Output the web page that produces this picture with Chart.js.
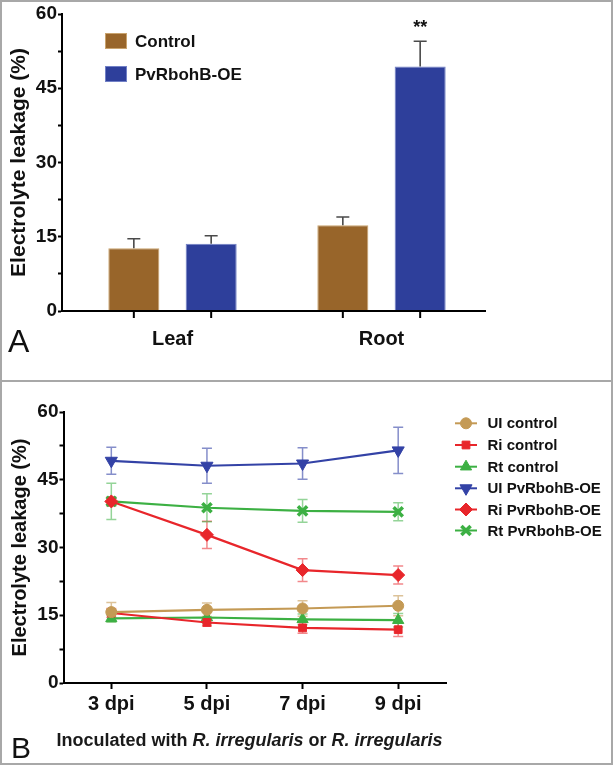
<!DOCTYPE html>
<html><head><meta charset="utf-8">
<script src="https://cdn.jsdelivr.net/npm/chart.js@4.4.1/dist/chart.umd.min.js"></script>
<style>
html,body{margin:0;padding:0;background:#fff;}
#wrap{position:relative;width:613px;height:765px;overflow:hidden;font-family:"Liberation Sans",Arial,sans-serif;color:#111;}
canvas{position:absolute;left:0;}
#cA{top:0;} #cB{top:382px;}
.frame{position:absolute;left:0;top:0;width:613px;height:765px;box-sizing:border-box;border:2px solid #a8a8a8;pointer-events:none;}
.sep{position:absolute;left:0;top:380px;width:613px;height:2px;background:#a8a8a8;}
.lbl{position:absolute;line-height:1;font-weight:normal;color:#111;}
#caption{position:absolute;top:730.5px;left:0;width:499px;text-align:center;font-weight:bold;font-size:18px;line-height:1;white-space:nowrap;color:#1a1a1a;}
</style></head>
<body>
<div id="wrap">
<canvas id="cA" width="613" height="380"></canvas>
<canvas id="cB" width="613" height="381"></canvas>
<div class="lbl" style="left:8px;top:324.5px;font-size:32px;">A</div>
<div class="lbl" style="left:11px;top:733px;font-size:30px;">B</div>
<div id="caption">Inoculated with <i>R. irregularis</i> or <i>R. irregularis</i></div>
<div class="sep"></div>
<div class="frame"></div>
</div>
<script>
// ---------- Panel A data ----------
const groupsA = ['Leaf', 'Root'];
const seriesA = ['Control', 'PvRbohB-OE'];
const controlA = [12.7, 17.3];
const controlErrA = [1.9, 1.7];
const oeA = [13.6, 49.4];
const oeErrA = [1.6, 5.1];
const sigA = ['', '**'];
const yTicksA = [0, 15, 30, 45, 60];

// ---------- Panel B data ----------
const daysB = ['3 dpi', '5 dpi', '7 dpi', '9 dpi'];
const seriesB = ['UI control', 'Ri control', 'Rt control', 'UI PvRbohB-OE', 'Ri PvRbohB-OE', 'Rt PvRbohB-OE'];
const uiControl = [15.7, 16.2, 16.5, 17.1];
const uiControlErr = [2.1, 1.5, 1.7, 2.2];
const riControl = [15.5, 13.4, 12.2, 11.8];
const riControlErr = [1.0, 0.8, 1.2, 1.5];
const rtControl = [14.3, 14.5, 14.1, 13.9];
const rtControlErr = [0.8, 1.3, 1.2, 1.5];
const uiOE = [49.2, 48.1, 48.6, 51.5];
const uiOEErr = [3.0, 3.9, 3.5, 5.1];
const riOE = [40.2, 32.8, 25.0, 23.9];
const riOEErr = [1.0, 3.0, 2.5, 2.0];
const rtOE = [40.2, 38.8, 38.1, 37.9];
const rtOEErr = [4.0, 3.1, 2.5, 2.0];
const yTicksB = [0, 15, 30, 45, 60];

const FONT = '"Liberation Sans", Arial, sans-serif';
const TXT = '#111';

function errorPlugin(hook) {
  const p = { id: 'err_' + hook };
  p[hook] = function (chart) {
    const ctx = chart.ctx, y = chart.scales.y;
    chart.data.datasets.forEach((ds, i) => {
      if (!ds.errors) return;
      const meta = chart.getDatasetMeta(i);
      ctx.save();
      ctx.strokeStyle = ds.errorColor;
      ctx.lineWidth = ds.errorWidth || 1.5;
      meta.data.forEach((el, j) => {
        const v = ds.data[j], e = ds.errors[j];
        const top = y.getPixelForValue(v + e);
        const bot = ds.errorUpOnly ? y.getPixelForValue(v) : y.getPixelForValue(v - e);
        const cap = ds.errorCap || 5;
        ctx.beginPath();
        ctx.moveTo(el.x, top); ctx.lineTo(el.x, bot);
        ctx.moveTo(el.x - cap, top); ctx.lineTo(el.x + cap, top);
        if (!ds.errorUpOnly) { ctx.moveTo(el.x - cap, bot); ctx.lineTo(el.x + cap, bot); }
        ctx.stroke();
        if (ds.sig && ds.sig[j]) {
          ctx.fillStyle = TXT;
          ctx.font = 'bold 18px ' + FONT;
          ctx.textAlign = 'center';
          ctx.textBaseline = 'bottom';
          ctx.fillText(ds.sig[j], el.x, top - 4);
        }
      });
      ctx.restore();
    });
  };
  return p;
}

// Panel A: ticks under each bar + x axis line + legend
const panelAExtras = {
  id: 'panelAExtras',
  afterLayout(chart) {
    const s = chart.scales.x;
    s.left = chart.chartArea.left + 6;
    s.configure();
  },
  afterDraw(chart) {
    const ctx = chart.ctx, area = chart.chartArea;
    ctx.save();
    ctx.strokeStyle = '#000';
    ctx.lineWidth = 2;
    ctx.beginPath();
    ctx.moveTo(area.left - 1, area.bottom); ctx.lineTo(area.right, area.bottom);
    ctx.stroke();
    chart.data.datasets.forEach((ds, i) => {
      chart.getDatasetMeta(i).data.forEach(el => {
        ctx.beginPath();
        ctx.moveTo(el.x, area.bottom); ctx.lineTo(el.x, area.bottom + 7);
        ctx.stroke();
      });
    });
    // legend
    const rows = [41, 74];
    ctx.font = 'bold 17px ' + FONT;
    ctx.textBaseline = 'middle';
    ctx.textAlign = 'left';
    chart.data.datasets.forEach((ds, i) => {
      ctx.fillStyle = ds.backgroundColor;
      ctx.fillRect(105, rows[i] - 8, 22, 16);
      ctx.strokeStyle = ds.borderColor; ctx.lineWidth = 1;
      ctx.strokeRect(105.5, rows[i] - 7.5, 21, 15);
      ctx.fillStyle = TXT;
      ctx.fillText(ds.label, 135, rows[i] + 1);
    });
    ctx.restore();
  }
};

new Chart(document.getElementById('cA'), {
  type: 'bar',
  data: {
    labels: groupsA,
    datasets: [
      { label: seriesA[0], data: controlA, backgroundColor: '#98652A', borderColor: '#C9A36E', borderWidth: 1,
        errors: controlErrA, errorUpOnly: true, errorColor: '#4a4a4a', errorWidth: 1.6, errorCap: 6.5 },
      { label: seriesA[1], data: oeA, backgroundColor: '#2E3F9B', borderColor: '#7180C6', borderWidth: 1,
        errors: oeErrA, errorUpOnly: true, errorColor: '#4a4a4a', errorWidth: 1.6, errorCap: 6.5, sig: sigA }
    ]
  },
  options: {
    responsive: false, animation: false,
    layout: { padding: { left: 0, right: 127, top: 14, bottom: 0 } },
    datasets: { bar: { barPercentage: 0.66, categoryPercentage: 0.74 } },
    plugins: { legend: { display: false }, tooltip: { enabled: false } },
    scales: {
      x: {
        border: { display: false },
        grid: { display: true, drawOnChartArea: false, drawTicks: false },
        ticks: { font: { family: FONT, size: 20, weight: 'bold' }, color: TXT, padding: 16 },
        afterFit(s) { s.height = 69; }
      },
      y: {
        min: 0, max: 60,
        border: { display: true, color: '#000', width: 2 },
        grid: { display: true, drawOnChartArea: false, drawTicks: true, tickLength: 4, tickColor: '#000', tickWidth: 2 },
        ticks: { stepSize: 7.5, padding: 1, font: { family: FONT, size: 19, weight: 'bold' }, color: TXT,
          callback: v => (yTicksA.includes(v) ? String(v) : '') },
        title: { display: true, text: 'Electrolyte leakage (%)', font: { family: FONT, size: 21, weight: 'bold' }, color: TXT, padding: { top: 7, bottom: 0 } },
        afterFit(s) { s.width = 62; }
      }
    }
  },
  plugins: [errorPlugin('afterDatasetsDraw'), panelAExtras]
});

// Panel B
const legendB = {
  id: 'legendB',
  afterDraw(chart) {
    const ctx = chart.ctx;
    const rows = [41.3, 63, 84.7, 106.3, 127.5, 148.5];
    ctx.save();
    ctx.font = 'bold 15px ' + FONT;
    ctx.textBaseline = 'middle';
    ctx.textAlign = 'left';
    chart.data.datasets.forEach((ds, i) => {
      const y = rows[i];
      ctx.strokeStyle = ds.borderColor; ctx.lineWidth = 2;
      ctx.beginPath(); ctx.moveTo(455, y); ctx.lineTo(477, y); ctx.stroke();
      ctx.fillStyle = ds.pointBackgroundColor; ctx.strokeStyle = ds.borderColor;
      ctx.lineWidth = ds.pointBorderWidth;
      Chart.helpers.drawPoint(ctx, { pointStyle: ds.pointStyle, rotation: ds.pointRotation || 0, radius: ds.pointRadius, borderWidth: ds.pointBorderWidth }, 466, y);
      ctx.fillStyle = TXT;
      ctx.fillText(ds.label, 487.5, y + 1);
    });
    ctx.restore();
  }
};

function lineDs(label, data, errs, color, errColor, style, radius, bw, rot) {
  return { label, data, errors: errs, errorColor: errColor, errorWidth: 1.5, errorCap: 5,
    borderColor: color, backgroundColor: color, pointBackgroundColor: color, pointBorderColor: color,
    pointStyle: style, pointRadius: radius, pointBorderWidth: bw, pointRotation: rot || 0,
    borderWidth: 2.2, fill: false, tension: 0 };
}

new Chart(document.getElementById('cB'), {
  type: 'line',
  data: {
    labels: daysB,
    datasets: [
      lineDs(seriesB[0], uiControl, uiControlErr, '#C49A55', 'rgba(196,154,85,0.6)', 'circle', 5.5, 1),
      lineDs(seriesB[1], riControl, riControlErr, '#E8262B', 'rgba(232,38,43,0.55)', 'rect', 5.5, 1),
      lineDs(seriesB[2], rtControl, rtControlErr, '#3CB043', 'rgba(60,176,67,0.55)', 'triangle', 6.5, 1),
      lineDs(seriesB[3], uiOE, uiOEErr, '#3342A6', 'rgba(51,66,166,0.6)', 'triangle', 7, 1, 180),
      lineDs(seriesB[4], riOE, riOEErr, '#E8262B', 'rgba(232,38,43,0.55)', 'rectRot', 6.5, 1),
      lineDs(seriesB[5], rtOE, rtOEErr, '#3CB043', 'rgba(60,176,67,0.55)', 'crossRot', 6.5, 3.5)
    ]
  },
  options: {
    responsive: false, animation: false,
    layout: { padding: { left: 0, right: 167, top: 30, bottom: 0 } },
    plugins: { legend: { display: false }, tooltip: { enabled: false } },
    scales: {
      x: {
        offset: true,
        border: { display: true, color: '#000', width: 2 },
        grid: { display: true, drawOnChartArea: false, drawTicks: true, tickLength: 6, tickColor: '#000', tickWidth: 2, offset: false },
        ticks: { font: { family: FONT, size: 20, weight: 'bold' }, color: TXT, padding: 3 },
        afterFit(s) { s.height = 80; }
      },
      y: {
        min: 0, max: 60,
        border: { display: true, color: '#000', width: 2 },
        grid: { display: true, drawOnChartArea: false, drawTicks: true, tickLength: 4, tickColor: '#000', tickWidth: 2 },
        ticks: { stepSize: 7.5, padding: 1, font: { family: FONT, size: 19, weight: 'bold' }, color: TXT,
          callback: v => (yTicksB.includes(v) ? String(v) : '') },
        title: { display: true, text: 'Electrolyte leakage (%)', font: { family: FONT, size: 20, weight: 'bold' }, color: TXT, padding: { top: 8.5, bottom: 0 } },
        afterFit(s) { s.width = 63.5; }
      }
    }
  },
  plugins: [errorPlugin('beforeDatasetsDraw'), legendB]
});
</script>
</body></html>
